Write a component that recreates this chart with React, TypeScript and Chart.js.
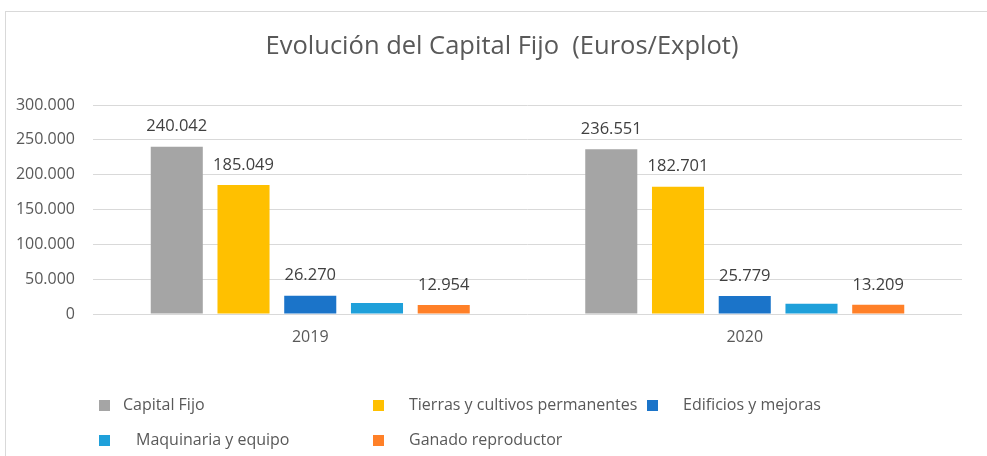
import React, { useEffect, useRef } from "react";
import { Chart, registerables } from "chart.js";

Chart.register(...registerables);

const title = "Evolución del Capital Fijo  (Euros/Explot)";
const categories = ["2019", "2020"];
const seriesNames = [
  "Capital Fijo",
  "Tierras y cultivos permanentes",
  "Edificios y mejoras",
  "Maquinaria y equipo",
  "Ganado reproductor",
];
const capitalFijo = [240042, 236551];
const tierras = [185049, 182701];
const edificios = [26270, 25779];
const maquinaria = [15769, 14862];
const ganado = [12954, 13209];
const showLabel = [true, true, true, false, true];
const colors = ["#A5A5A5", "#FFC000", "#1B74C9", "#1FA0DA", "#FF8028"];
const yTicks = [0, 50000, 100000, 150000, 200000, 250000, 300000];

const FONT = "'Open Sans', sans-serif";

function fmt(v: number): string {
  const s = Math.round(v).toString();
  return s.replace(/\B(?=(\d{3})+(?!\d))/g, ".");
}

// legend placement (layout only)
const legendPos = [
  { sx: 99, tx: 123, y: 405.5 },
  { sx: 373, tx: 409, y: 405.5 },
  { sx: 647, tx: 683, y: 405.5 },
  { sx: 99, tx: 136, y: 440.5 },
  { sx: 373, tx: 409, y: 440.5 },
];

const decorPlugin = {
  id: "decor",
  beforeDraw(chart: any) {
    const ctx = chart.ctx;
    ctx.save();
    ctx.fillStyle = "#ffffff";
    ctx.fillRect(0, 0, chart.width, chart.height);
    ctx.strokeStyle = "#D9D9D9";
    ctx.lineWidth = 1;
    ctx.strokeRect(5.5, 11.5, 1200, 1200);
    ctx.restore();
  },
  afterDraw(chart: any) {
    const ctx = chart.ctx;
    ctx.save();
    // title
    ctx.fillStyle = "#595959";
    ctx.font = `25.5px ${FONT}`;
    ctx.textAlign = "center";
    ctx.textBaseline = "middle";
    ctx.fillText(title, 502, 47);
    // data labels
    ctx.font = `16.5px ${FONT}`;
    ctx.fillStyle = "#404040";
    chart.data.datasets.forEach((ds: any, i: number) => {
      if (!showLabel[i]) return;
      const meta = chart.getDatasetMeta(i);
      meta.data.forEach((bar: any, j: number) => {
        ctx.fillText(fmt(ds.data[j]), bar.x, bar.y - 20);
      });
    });
    // legend
    ctx.textAlign = "left";
    ctx.font = `16px ${FONT}`;
    chart.data.datasets.forEach((ds: any, i: number) => {
      const p = legendPos[i];
      ctx.fillStyle = colors[i];
      ctx.fillRect(p.sx, p.y - 5.5, 11, 11);
      ctx.fillStyle = "#595959";
      ctx.fillText(ds.label, p.tx, p.y);
    });
    ctx.restore();
  },
};

export default function App() {
  const ref = useRef<HTMLCanvasElement | null>(null);
  useEffect(() => {
    if (!ref.current) return;
    const values = [capitalFijo, tierras, edificios, maquinaria, ganado];
    const chart = new Chart(ref.current, {
      type: "bar",
      data: {
        labels: categories,
        datasets: seriesNames.map((name, i) => ({
          label: name,
          data: values[i],
          backgroundColor: colors[i],
          borderWidth: 0,
          categoryPercentage: 0.768,
          barPercentage: 0.78,
        })),
      },
      options: {
        responsive: false,
        animation: false,
        devicePixelRatio: 1,
        layout: { padding: { left: 0, top: 105, right: 25, bottom: 102 } },
        plugins: {
          legend: { display: false },
          title: { display: false },
          tooltip: { enabled: false },
        },
        scales: {
          x: {
            grid: { display: false, drawTicks: false },
            border: { display: false },
            ticks: {
              padding: 14,
              color: "#595959",
              font: { family: FONT, size: 16 },
            },
            afterFit: (s: any) => {
              s.height = 40;
            },
          },
          y: {
            min: 0,
            max: 300000,
            afterBuildTicks: (s: any) => {
              s.ticks = yTicks.map((v) => ({ value: v }));
            },
            grid: { color: "#D9D9D9", lineWidth: 1, drawTicks: false },
            border: { display: false },
            ticks: {
              padding: 18,
              color: "#595959",
              font: { family: FONT, size: 16 },
              callback: (v: any) => fmt(Number(v)),
            },
            afterFit: (s: any) => {
              s.width = 93;
            },
          },
        },
      },
      plugins: [decorPlugin],
    });
    return () => chart.destroy();
  }, []);
  return (
    <div style={{ position: "fixed", left: 0, top: 0, width: 987, height: 456, background: "#fff" }}>
      <canvas ref={ref} width={987} height={456} style={{ display: "block", width: 987, height: 456 }} />
    </div>
  );
}
